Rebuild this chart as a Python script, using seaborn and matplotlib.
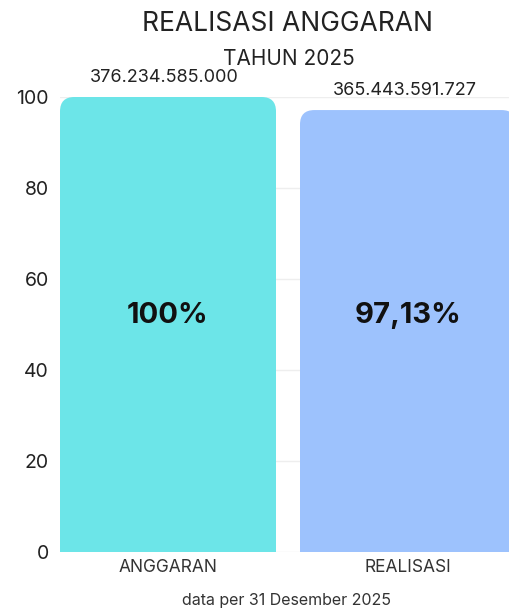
import pandas as pd
import seaborn as sns
import matplotlib.pyplot as plt
from matplotlib.patches import FancyBboxPatch, Rectangle

categories = ["ANGGARAN", "REALISASI"]
persen = [100, 97.13]
persen_label = ["100%", "97,13%"]
nominal_label = ["376.234.585.000", "365.443.591.727"]
bar_colors = ["#6ce5e8", "#9dc2fd"]

sns.set_theme(style="white")
plt.rcParams['font.family'] = ['Inter', 'DejaVu Sans']

df = pd.DataFrame({"kategori": categories, "persen": persen})

fig = plt.figure(figsize=(5.09, 6.10), dpi=100)
ax = fig.add_axes([60 / 509, 58 / 610, 456 / 509, 455 / 610])

sns.barplot(data=df, x="kategori", y="persen", hue="kategori",
            palette=bar_colors, width=0.9, ax=ax, legend=False)

ax.set_xlim(-0.45, 1.45)
ax.set_ylim(0, 100)

# swap square bars for ones with rounded top corners
px_x = 456 / 1.9      # pixels per x unit
px_y = 455 / 100      # pixels per y unit
r = 0.06
for patch, color in zip(list(ax.patches), bar_colors):
    x0, w, h = patch.get_x(), patch.get_width(), patch.get_height()
    patch.remove()
    ax.add_patch(FancyBboxPatch((x0, 0), w, h,
                                boxstyle=f"round,pad=0,rounding_size={r}",
                                mutation_aspect=px_x / px_y,
                                facecolor=color, edgecolor="none", zorder=2))
    ax.add_patch(Rectangle((x0, 0), w, h / 2, facecolor=color,
                           edgecolor="none", zorder=2))

for i in range(len(categories)):
    ax.text(i, 52, persen_label[i], ha="center", va="center",
            fontsize=21, fontweight="bold", color="#111111", zorder=3)
    ax.text(i - 0.015, persen[i] + 2.4, nominal_label[i], ha="center",
            va="bottom", fontsize=13, color="#222222", clip_on=False)

ax.set_yticks([0, 20, 40, 60, 80, 100])
ax.yaxis.grid(True, color="#eeeeee", linewidth=1)
ax.set_axisbelow(True)
for s in ax.spines.values():
    s.set_visible(False)
ax.tick_params(axis="y", labelsize=14, pad=8, colors="#222222", length=0)
ax.tick_params(axis="x", labelsize=12.5, pad=5, colors="#333333", length=0)
ax.set_xlabel("")
ax.set_ylabel("")

fig.text(288 / 509, 1 - 24 / 610, "REALISASI ANGGARAN", ha="center",
         va="center", fontsize=19, color="#222222")
fig.text(289 / 509, 1 - 59 / 610, "TAHUN 2025", ha="center",
         va="center", fontsize=15, color="#222222")
fig.text(287 / 509, 1 - 601 / 610, "data per 31 Desember 2025", ha="center",
         va="center", fontsize=11.5, color="#333333")

fig.savefig("out.png", dpi=100)
